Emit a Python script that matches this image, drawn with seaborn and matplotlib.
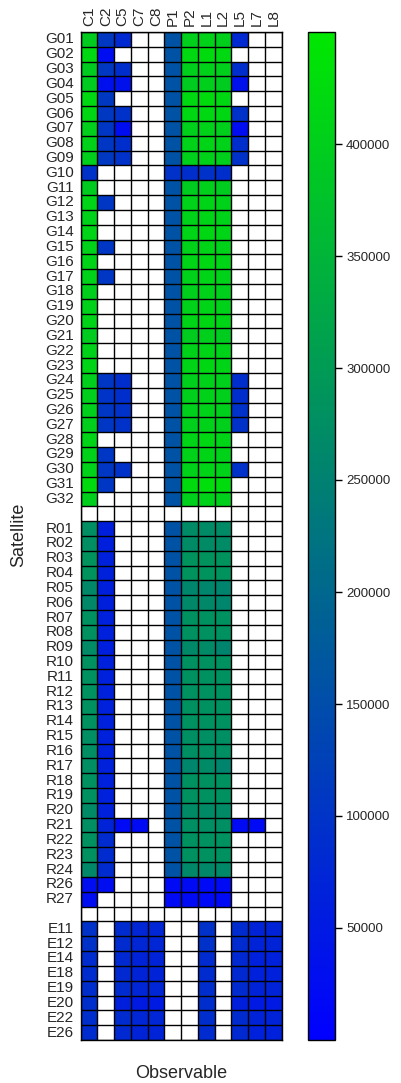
import numpy as np
import pandas as pd
import seaborn as sns
import matplotlib.pyplot as plt
from matplotlib.colors import LinearSegmentedColormap

N = np.nan

observables = ["C1", "C2", "C5", "C7", "C8", "P1", "P2", "L1", "L2", "L5", "L7", "L8"]

gps_sats = ["G01", "G02", "G03", "G04", "G05", "G06", "G07", "G08", "G09", "G10",
            "G11", "G12", "G13", "G14", "G15", "G16", "G17", "G18", "G19", "G20",
            "G21", "G22", "G23", "G24", "G25", "G26", "G27", "G28", "G29", "G30",
            "G31", "G32"]
glo_sats = ["R01", "R02", "R03", "R04", "R05", "R06", "R07", "R08", "R09", "R10",
            "R11", "R12", "R13", "R14", "R15", "R16", "R17", "R18", "R19", "R20",
            "R21", "R22", "R23", "R24", "R26", "R27"]
gal_sats = ["E11", "E12", "E14", "E18", "E19", "E20", "E22", "E26"]

# observation counts per satellite, columns in the order of `observables`
gps_counts = [
    [395e3, 110e3, 80e3, N, N, 160e3, 400e3, 405e3, 400e3, 80e3, N, N],
    [420e3, 25e3, N, N, N, 160e3, 420e3, 425e3, 420e3, N, N, N],
    [395e3, 110e3, 90e3, N, N, 160e3, 400e3, 405e3, 400e3, 90e3, N, N],
    [395e3, 30e3, 35e3, N, N, 160e3, 395e3, 400e3, 395e3, 35e3, N, N],
    [420e3, 110e3, N, N, N, 160e3, 420e3, 425e3, 420e3, N, N, N],
    [415e3, 110e3, 95e3, N, N, 160e3, 415e3, 420e3, 415e3, 95e3, N, N],
    [400e3, 105e3, 25e3, N, N, 160e3, 400e3, 405e3, 400e3, 25e3, N, N],
    [405e3, 105e3, 90e3, N, N, 160e3, 405e3, 410e3, 405e3, 90e3, N, N],
    [400e3, 110e3, 95e3, N, N, 160e3, 400e3, 405e3, 400e3, 95e3, N, N],
    [95e3, N, N, N, N, 95e3, 90e3, 95e3, 90e3, N, N, N],
    [395e3, N, N, N, N, 160e3, 395e3, 400e3, 395e3, N, N, N],
    [410e3, 105e3, N, N, N, 160e3, 405e3, 410e3, 405e3, N, N, N],
    [405e3, N, N, N, N, 160e3, 405e3, 410e3, 405e3, N, N, N],
    [410e3, N, N, N, N, 160e3, 410e3, 415e3, 410e3, N, N, N],
    [405e3, 105e3, N, N, N, 160e3, 405e3, 410e3, 405e3, N, N, N],
    [410e3, N, N, N, N, 160e3, 410e3, 415e3, 410e3, N, N, N],
    [405e3, 105e3, N, N, N, 160e3, 405e3, 410e3, 405e3, N, N, N],
    [400e3, N, N, N, N, 160e3, 400e3, 405e3, 400e3, N, N, N],
    [405e3, N, N, N, N, 160e3, 405e3, 410e3, 405e3, N, N, N],
    [410e3, N, N, N, N, 160e3, 410e3, 415e3, 410e3, N, N, N],
    [395e3, N, N, N, N, 160e3, 395e3, 400e3, 395e3, N, N, N],
    [405e3, N, N, N, N, 160e3, 405e3, 410e3, 405e3, N, N, N],
    [410e3, N, N, N, N, 160e3, 410e3, 415e3, 410e3, N, N, N],
    [400e3, 105e3, 90e3, N, N, 160e3, 400e3, 405e3, 400e3, 90e3, N, N],
    [400e3, 100e3, 90e3, N, N, 160e3, 400e3, 405e3, 400e3, 90e3, N, N],
    [400e3, 105e3, 95e3, N, N, 160e3, 400e3, 405e3, 400e3, 95e3, N, N],
    [400e3, 105e3, 95e3, N, N, 160e3, 400e3, 405e3, 400e3, 95e3, N, N],
    [410e3, N, N, N, N, 160e3, 410e3, 415e3, 410e3, N, N, N],
    [405e3, 105e3, N, N, N, 160e3, 405e3, 410e3, 405e3, N, N, N],
    [405e3, 105e3, 95e3, N, N, 160e3, 405e3, 410e3, 405e3, 95e3, N, N],
    [425e3, 105e3, N, N, N, 160e3, 425e3, 430e3, 425e3, N, N, N],
    [400e3, N, N, N, N, 160e3, 400e3, 405e3, 400e3, N, N, N],
]

glo_counts = [
    [275e3, 60e3, N, N, N, 160e3, 270e3, 270e3, 270e3, N, N, N],
    [275e3, 60e3, N, N, N, 160e3, 270e3, 270e3, 270e3, N, N, N],
    [285e3, 65e3, N, N, N, 160e3, 285e3, 285e3, 285e3, N, N, N],
    [285e3, 65e3, N, N, N, 160e3, 285e3, 285e3, 285e3, N, N, N],
    [265e3, 60e3, N, N, N, 160e3, 260e3, 260e3, 255e3, N, N, N],
    [265e3, 60e3, N, N, N, 160e3, 265e3, 265e3, 260e3, N, N, N],
    [280e3, 65e3, N, N, N, 160e3, 280e3, 280e3, 280e3, N, N, N],
    [280e3, 65e3, N, N, N, 160e3, 280e3, 280e3, 280e3, N, N, N],
    [270e3, 60e3, N, N, N, 160e3, 265e3, 270e3, 255e3, N, N, N],
    [280e3, 65e3, N, N, N, 160e3, 280e3, 280e3, 280e3, N, N, N],
    [280e3, 65e3, N, N, N, 160e3, 280e3, 280e3, 280e3, N, N, N],
    [280e3, 65e3, N, N, N, 160e3, 280e3, 280e3, 280e3, N, N, N],
    [280e3, 65e3, N, N, N, 160e3, 280e3, 280e3, 280e3, N, N, N],
    [280e3, 65e3, N, N, N, 160e3, 280e3, 280e3, 280e3, N, N, N],
    [275e3, 65e3, N, N, N, 160e3, 275e3, 275e3, 275e3, N, N, N],
    [275e3, 65e3, N, N, N, 160e3, 275e3, 275e3, 275e3, N, N, N],
    [275e3, 65e3, N, N, N, 160e3, 260e3, 270e3, 255e3, N, N, N],
    [280e3, 65e3, N, N, N, 160e3, 280e3, 280e3, 280e3, N, N, N],
    [280e3, 65e3, N, N, N, 160e3, 280e3, 280e3, 280e3, N, N, N],
    [270e3, 65e3, N, N, N, 160e3, 270e3, 270e3, 270e3, N, N, N],
    [275e3, 70e3, 20e3, 20e3, N, 160e3, 275e3, 275e3, 275e3, 20e3, 20e3, N],
    [280e3, 85e3, N, N, N, 160e3, 280e3, 280e3, 280e3, N, N, N],
    [280e3, 85e3, N, N, N, 160e3, 280e3, 280e3, 280e3, N, N, N],
    [265e3, 85e3, N, N, N, 160e3, 265e3, 265e3, 265e3, N, N, N],
    [25e3, 25e3, N, N, N, 20e3, 20e3, 20e3, 20e3, N, N, N],
    [25e3, N, N, N, N, 20e3, 20e3, 20e3, 20e3, N, N, N],
]

gal_counts = [
    [95e3, N, 85e3, 75e3, 75e3, N, N, 95e3, N, 85e3, 70e3, 70e3],
    [95e3, N, 85e3, 75e3, 75e3, N, N, 95e3, N, 85e3, 70e3, 70e3],
    [85e3, N, 80e3, 70e3, 70e3, N, N, 85e3, N, 80e3, 65e3, 65e3],
    [85e3, N, 80e3, 70e3, 70e3, N, N, 85e3, N, 80e3, 65e3, 65e3],
    [90e3, N, 85e3, 75e3, 75e3, N, N, 90e3, N, 85e3, 70e3, 70e3],
    [90e3, N, 60e3, 50e3, 50e3, N, N, 90e3, N, 60e3, 50e3, 50e3],
    [90e3, N, 85e3, 75e3, 75e3, N, N, 90e3, N, 85e3, 70e3, 70e3],
    [85e3, N, 80e3, 70e3, 70e3, N, N, 85e3, N, 80e3, 65e3, 65e3],
]

cbar_ticks = [50000, 100000, 150000, 200000, 250000, 300000, 350000, 400000]

# assemble the table with an empty separator row between constellations
blank = [N] * len(observables)
rows = gps_counts + [blank] + glo_counts + [blank] + gal_counts
row_labels = gps_sats + [""] + glo_sats + [""] + gal_sats
table = pd.DataFrame(rows, columns=observables)

sns.set_theme(style="white")
plt.rcParams["font.family"] = ["Liberation Sans", "DejaVu Sans"]

W, H = 401, 1083
fig = plt.figure(figsize=(W / 100, H / 100), dpi=100)
ax = fig.add_axes([80.7 / W, 1 - 1040 / H, 201 / W, 1008 / H])
cax = fig.add_axes([308.3 / W, 1 - 1040 / H, 26.7 / W, 1008 / H])

cmap = LinearSegmentedColormap.from_list("blue_green", ["#0000FF", "#00E800"])

sns.heatmap(table, ax=ax, cbar_ax=cax, cmap=cmap, vmin=0, vmax=450000,
            linewidths=0, xticklabels=observables, yticklabels=row_labels,
            cbar_kws={"ticks": cbar_ticks})

# cell borders for every cell, filled or empty
nrows, ncols = table.shape
for i in range(nrows + 1):
    ax.axhline(i, color="black", lw=1.0, zorder=3)
for j in range(ncols + 1):
    ax.axvline(j, color="black", lw=1.0, zorder=3)

for s in ax.spines.values():
    s.set_visible(True)
    s.set_color("black")
    s.set_linewidth(1.0)

ax.xaxis.tick_top()
ax.tick_params(axis="x", length=0, pad=4, labelsize=11, labelrotation=90)
ax.tick_params(axis="y", length=0, pad=5, labelsize=11, labelrotation=0)
for t in ax.get_xticklabels():
    t.set_verticalalignment("bottom")
ax.set_xlabel("")
ax.set_ylabel("")

fig.text(19 / W, 1 - 535 / H, "Satellite", rotation=90, ha="center", va="center",
         fontsize=13)
fig.text(181 / W, 1 - 1073 / H, "Observable", ha="center", va="center", fontsize=13)

cax.tick_params(axis="y", length=5, width=1, color="black", labelsize=9.5, pad=3,
                right=True)
cbar = ax.collections[0].colorbar
cbar.outline.set_visible(True)
cbar.outline.set_edgecolor("black")
cbar.outline.set_linewidth(1.0)

fig.savefig("out.png", dpi=100, facecolor="white")
